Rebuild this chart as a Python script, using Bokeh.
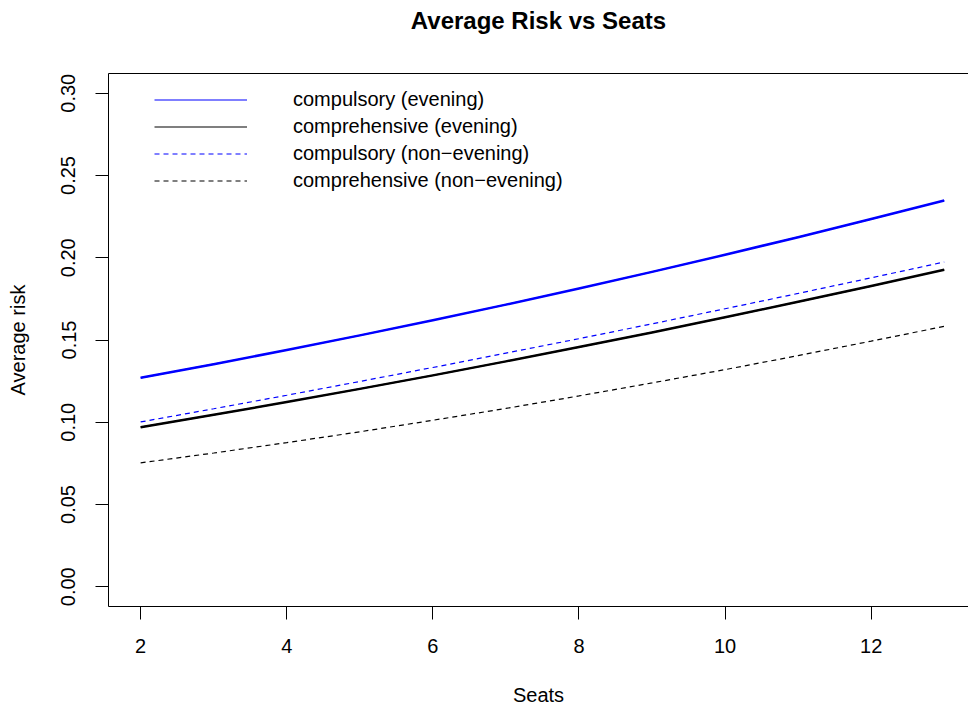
from bokeh.plotting import figure
from bokeh.models import (LinearAxis, FixedTicker, Legend, LegendItem,
                          Range1d, PrintfTickFormatter)
from bokeh.embed import file_html
from bokeh.resources import INLINE

# ---- data ----
seats = [2, 3, 4, 5, 6, 7, 8, 9, 10, 11, 12, 13]
compulsory_evening = [0.1270, 0.1353, 0.1439, 0.1528, 0.1620, 0.1715, 0.1813, 0.1914,
                      0.2018, 0.2125, 0.2235, 0.2348]
comprehensive_evening = [0.0970, 0.1045, 0.1123, 0.1203, 0.1285, 0.1370, 0.1457, 0.1546,
                         0.1638, 0.1732, 0.1828, 0.1927]
compulsory_nonevening = [0.1002, 0.1082, 0.1164, 0.1248, 0.1333, 0.1420, 0.1508, 0.1598,
                         0.1690, 0.1783, 0.1878, 0.1974]
comprehensive_nonevening = [0.0753, 0.0813, 0.0876, 0.0942, 0.1012, 0.1084, 0.1160, 0.1239,
                            0.1320, 0.1405, 0.1493, 0.1583]
legend_labels = ["compulsory (evening)", "comprehensive (evening)",
                 "compulsory (non\u2212evening)", "comprehensive (non\u2212evening)"]
x_ticks = [2, 4, 6, 8, 10, 12]
y_ticks = [0.00, 0.05, 0.10, 0.15, 0.20, 0.25, 0.30]
title_text = "Average Risk vs Seats"

FONT = "Liberation Sans"

p = figure(width=968, height=708, output_backend="svg", toolbar_location=None,
           x_range=Range1d(1.56, 13.332), y_range=Range1d(-0.012, 0.312),
           min_border_left=108, min_border_right=0, min_border_top=73,
           min_border_bottom=102)
p.outline_line_color = None
p.grid.visible = False
p.background_fill_color = "white"
p.border_fill_color = "white"

xa = p.xaxis[0]
xa.ticker = FixedTicker(ticks=x_ticks)
ya = p.yaxis[0]
ya.ticker = FixedTicker(ticks=y_ticks)
ya.formatter = PrintfTickFormatter(format="%.2f")
ya.major_label_orientation = "vertical"
for ax in (xa, ya):
    ax.major_tick_in = 0
    ax.major_tick_out = 13
    ax.minor_tick_line_color = None
    ax.major_tick_line_color = "black"
    ax.axis_line_color = "black"
    ax.axis_line_width = 1
    ax.major_label_text_font = FONT
    ax.major_label_text_font_size = "20px"
    ax.major_label_text_color = "black"
    ax.axis_label_text_font = FONT
    ax.axis_label_text_font_size = "20px"
    ax.axis_label_text_font_style = "normal"
    ax.axis_label_text_color = "black"
xa.major_label_standoff = 19
ya.major_label_standoff = 20
ya.axis_label = "Average risk"
ya.axis_label_standoff = 30
xa.axis_label = "Seats"
xa.axis_label_standoff = 28

# top frame line (the right side of the frame lies outside the picture),
# carrying the main title above it
top = LinearAxis(ticker=FixedTicker(ticks=[]), axis_line_color="black",
                 major_tick_in=0, major_tick_out=0, major_label_standoff=0,
                 minor_tick_line_color=None, major_tick_line_color=None,
                 axis_label=title_text, axis_label_standoff=40,
                 axis_label_text_font=FONT, axis_label_text_font_size="24px",
                 axis_label_text_font_style="bold", axis_label_text_color="black")
p.add_layout(top, "above")

# thin twins of the solid series, used for the legend (hidden under the thick lines)
leg_ce = p.line(seats, compulsory_evening, line_color="blue", line_width=1.2)
leg_he = p.line(seats, comprehensive_evening, line_color="black", line_width=1.2)

# data lines
p.line(seats, compulsory_evening, line_color="blue", line_width=2.5, line_join="round")
p.line(seats, comprehensive_evening, line_color="black", line_width=2.5, line_join="round")
r_cn = p.line(seats, compulsory_nonevening, line_color="blue", line_width=1.2,
              line_dash="5 4")
r_hn = p.line(seats, comprehensive_nonevening, line_color="black", line_width=1.2,
              line_dash="5 4")

items = [LegendItem(label=lab, renderers=[r])
         for lab, r in zip(legend_labels, [leg_ce, leg_he, r_cn, r_hn])]

legend = Legend(items=items, location=(46, 412), padding=0, margin=0,
                border_line_color=None, background_fill_alpha=0,
                glyph_width=93, glyph_height=27, label_height=27, label_width=10,
                label_standoff=46, spacing=0,
                label_text_font=FONT, label_text_font_size="20px",
                label_text_color="black")
p.add_layout(legend, "center")

open("out.html", "w").write(file_html(p, INLINE))
